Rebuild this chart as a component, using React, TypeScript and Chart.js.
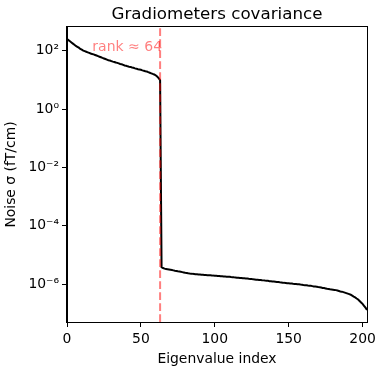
import React, { useEffect, useRef } from "react";
import { Chart, registerables } from "chart.js";

Chart.register(...registerables);

const chartTitle = "Gradiometers covariance";
const xAxisTitle = "Eigenvalue index";
const yAxisTitle = "Noise σ (fT/cm)";
const rankLineX = 63;
const rankText = "rank ≈ 64";

const xMin = 0;
const xMax = 203;
const xTickValues = [0, 50, 100, 150, 200];
const yMin = 5e-8;
const yMax = 6.6e2;
const yTickValues = [1e-6, 1e-4, 1e-2, 1, 1e2];
const yTickLabels = ["10⁻⁶", "10⁻⁴", "10⁻²", "10⁰", "10²"];

// Noise sigma per eigenvalue index (0..203)
const noiseSigma = [
  257, 234, 214, 195, 178, 162, 148, 138, 129, 117,
  110, 102, 97.7, 93.3, 89.1, 85.1, 81.3, 77.6, 75.9, 72.4,
  69.2, 66.1, 63.1, 60.3, 57.5, 55.0, 52.5, 50.1, 47.9, 46.8,
  44.7, 42.7, 41.7, 39.8, 38.9, 37.2, 35.5, 34.7, 33.1, 31.6,
  30.9, 29.5, 28.8, 28.2, 26.9, 26.3, 25.1, 24.5, 23.4, 22.9,
  22.4, 21.4, 20.9, 20.0, 19.5, 18.6, 17.8, 17.0, 16.2, 15.5,
  14.5, 13.2, 11.7, 10.0,
  3.80e-6, 3.55e-6, 3.39e-6, 3.31e-6, 3.24e-6, 3.16e-6,
  3.09e-6, 3.02e-6, 2.95e-6, 2.88e-6, 2.82e-6, 2.75e-6, 2.69e-6, 2.63e-6, 2.57e-6, 2.51e-6,
  2.45e-6, 2.40e-6, 2.34e-6, 2.29e-6, 2.28e-6, 2.24e-6, 2.23e-6, 2.19e-6, 2.18e-6, 2.14e-6,
  2.13e-6, 2.09e-6, 2.08e-6, 2.04e-6, 2.03e-6, 2.02e-6, 2.00e-6, 1.99e-6, 1.98e-6, 1.95e-6,
  1.94e-6, 1.93e-6, 1.91e-6, 1.90e-6, 1.86e-6, 1.85e-6, 1.82e-6, 1.81e-6, 1.80e-6, 1.78e-6,
  1.77e-6, 1.74e-6, 1.73e-6, 1.70e-6, 1.69e-6, 1.66e-6, 1.65e-6, 1.62e-6, 1.61e-6, 1.58e-6,
  1.57e-6, 1.55e-6, 1.54e-6, 1.51e-6, 1.50e-6, 1.48e-6, 1.45e-6, 1.44e-6, 1.41e-6, 1.40e-6,
  1.38e-6, 1.37e-6, 1.35e-6, 1.34e-6, 1.32e-6, 1.31e-6, 1.29e-6, 1.26e-6, 1.25e-6, 1.23e-6,
  1.22e-6, 1.20e-6, 1.18e-6, 1.17e-6, 1.15e-6, 1.14e-6, 1.12e-6, 1.10e-6, 1.09e-6, 1.07e-6,
  1.06e-6, 1.05e-6, 1.04e-6, 1.02e-6, 1.01e-6, 1.00e-6, 9.9e-7, 9.8e-7, 9.6e-7, 9.5e-7,
  9.3e-7, 9.2e-7, 9.1e-7, 8.9e-7, 8.8e-7, 8.7e-7, 8.5e-7, 8.3e-7, 8.2e-7, 8.1e-7,
  7.9e-7, 7.8e-7, 7.6e-7, 7.4e-7, 7.3e-7, 7.1e-7, 6.9e-7, 6.8e-7, 6.6e-7, 6.5e-7,
  6.4e-7, 6.3e-7, 6.2e-7, 6.0e-7, 5.8e-7, 5.6e-7, 5.5e-7, 5.3e-7, 5.1e-7, 4.9e-7,
  4.7e-7, 4.5e-7, 4.3e-7, 4.0e-7, 3.7e-7, 3.5e-7, 3.2e-7, 2.95e-7, 2.63e-7, 2.34e-7,
  2.09e-7, 1.80e-7, 1.55e-7, 1.30e-7,
];

const FONT = "'DejaVu Sans', sans-serif";
const RANK_COLOR = "rgba(255, 0, 0, 0.5)";

const overlayPlugin = {
  id: "overlay",
  afterDatasetsDraw(chart: any) {
    const { ctx, chartArea, scales } = chart;
    const x = scales.x.getPixelForValue(rankLineX);
    ctx.save();
    ctx.strokeStyle = RANK_COLOR;
    ctx.lineWidth = 2;
    ctx.setLineDash([7.7, 3.3]);
    ctx.beginPath();
    ctx.moveTo(x, chartArea.bottom);
    ctx.lineTo(x, chartArea.top);
    ctx.stroke();
    ctx.setLineDash([]);
    ctx.fillStyle = RANK_COLOR;
    ctx.font = `14px ${FONT}`;
    ctx.textAlign = "right";
    ctx.textBaseline = "alphabetic";
    ctx.fillText(rankText, x + 2, chartArea.top + 23.5);
    ctx.restore();
  },
  afterDraw(chart: any) {
    const { ctx, chartArea } = chart;
    ctx.save();
    ctx.strokeStyle = "#000";
    ctx.lineWidth = 1;
    ctx.strokeRect(
      Math.round(chartArea.left) - 0.5,
      Math.round(chartArea.top) - 0.5,
      Math.round(chartArea.right - chartArea.left) + 1,
      Math.round(chartArea.bottom - chartArea.top) + 1
    );
    ctx.fillStyle = "#000";
    ctx.font = `16.7px ${FONT}`;
    ctx.textAlign = "center";
    ctx.textBaseline = "alphabetic";
    ctx.fillText(chartTitle, (chartArea.left + chartArea.right) / 2, 18.5);
    ctx.restore();
  },
};

export default function App() {
  const canvasRef = useRef<HTMLCanvasElement | null>(null);

  useEffect(() => {
    if (!canvasRef.current) return;
    const points = noiseSigma.map((v, i) => ({ x: i, y: v }));
    const chart = new Chart(canvasRef.current, {
      type: "line",
      data: {
        datasets: [
          {
            data: points,
            borderColor: "#000",
            borderWidth: 2,
            pointRadius: 0,
            tension: 0,
            fill: false,
          },
        ],
      },
      options: {
        animation: false,
        responsive: false,
        maintainAspectRatio: false,
        layout: { padding: { top: 27, right: 13, left: 0, bottom: 0 } },
        plugins: {
          legend: { display: false },
          title: { display: false },
          tooltip: { enabled: false },
        },
        scales: {
          x: {
            type: "linear",
            min: xMin,
            max: xMax,
            afterFit: (s: any) => {
              s.height = 48;
            },
            afterBuildTicks: (s: any) => {
              s.ticks = xTickValues.map((v) => ({ value: v }));
            },
            ticks: {
              color: "#000",
              font: { family: FONT, size: 13.9 },
              padding: 4,
              maxRotation: 0,
              autoSkip: false,
            },
            grid: {
              display: true,
              drawOnChartArea: false,
              drawTicks: true,
              tickLength: 5,
              color: "#000",
            },
            border: { display: true, color: "#000", width: 1 },
            title: {
              display: true,
              text: xAxisTitle,
              color: "#000",
              font: { family: FONT, size: 13.9 },
              padding: { top: 0, bottom: 2 },
            },
          },
          y: {
            type: "logarithmic",
            min: yMin,
            max: yMax,
            afterFit: (s: any) => {
              s.width = 67;
            },
            afterBuildTicks: (s: any) => {
              s.ticks = yTickValues.map((v) => ({ value: v }));
            },
            ticks: {
              color: "#000",
              font: { family: FONT, size: 13.9 },
              padding: 3,
              autoSkip: false,
              callback: (value: any) => {
                const idx = yTickValues.indexOf(Number(value));
                return idx >= 0 ? yTickLabels[idx] : "";
              },
            },
            grid: {
              display: true,
              drawOnChartArea: false,
              drawTicks: true,
              tickLength: 5,
              color: "#000",
            },
            border: { display: true, color: "#000", width: 1 },
            title: {
              display: true,
              text: yAxisTitle,
              color: "#000",
              font: { family: FONT, size: 13.9 },
              padding: { top: 3, bottom: 0 },
            },
          },
        },
      },
      plugins: [overlayPlugin],
    });
    return () => chart.destroy();
  }, []);

  return (
    <div style={{ position: "fixed", left: 0, top: 0, width: 380, height: 370, background: "#fff" }}>
      <canvas ref={canvasRef} width={380} height={370} />
    </div>
  );
}
